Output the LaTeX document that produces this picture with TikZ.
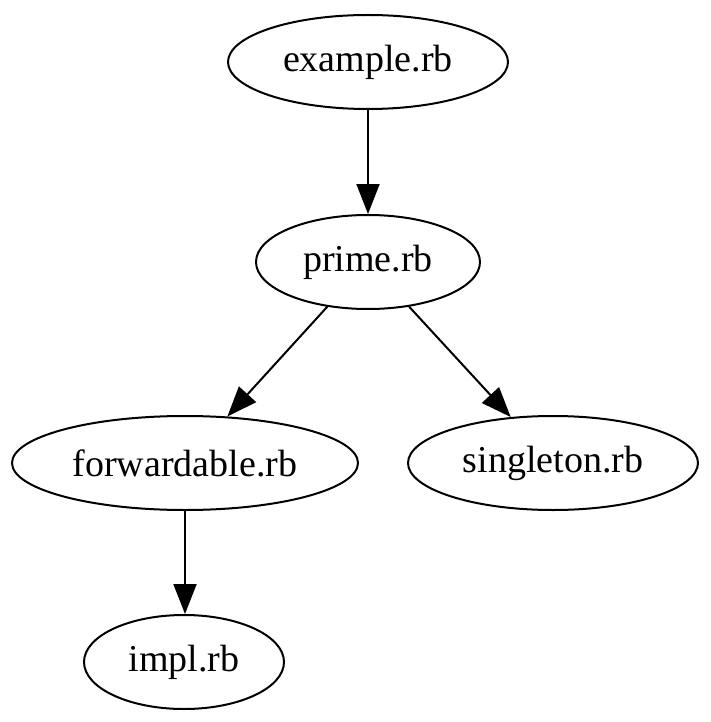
\documentclass[tikz,border=0pt]{standalone}
\usepackage{fontspec}
\setmainfont{Liberation Serif}
\usetikzlibrary{shapes.geometric,arrows.meta}
\begin{document}
\begin{tikzpicture}[x=1pt,y=-1pt,
  filenode/.style={draw=black, line width=2pt, ellipse, inner sep=0pt,
    minimum height=94pt, font=\fontsize{38}{40}\selectfont},
  dep/.style={draw=black, line width=2pt, -{Triangle[length=30pt,width=23pt]}}]
\useasboundingbox (0,0) rectangle (710,722);
\node[filenode, minimum width=280pt] (example) at (368,62) {example.rb};
\node[filenode, minimum width=224pt] (prime) at (368,262) {prime.rb};
\node[filenode, minimum width=346pt] (forwardable) at (185,463) {forwardable.rb};
\node[filenode, minimum width=290pt] (singleton) at (553,463) {singleton.rb};
\node[filenode, minimum width=200pt] (impl) at (184,662) {impl.rb};
\draw[dep] (example) -- (prime);
\draw[dep] (prime) -- (forwardable);
\draw[dep] (prime) -- (singleton);
\draw[dep] (forwardable.south) -- (forwardable.south |- impl.north);
\end{tikzpicture}
\end{document}
